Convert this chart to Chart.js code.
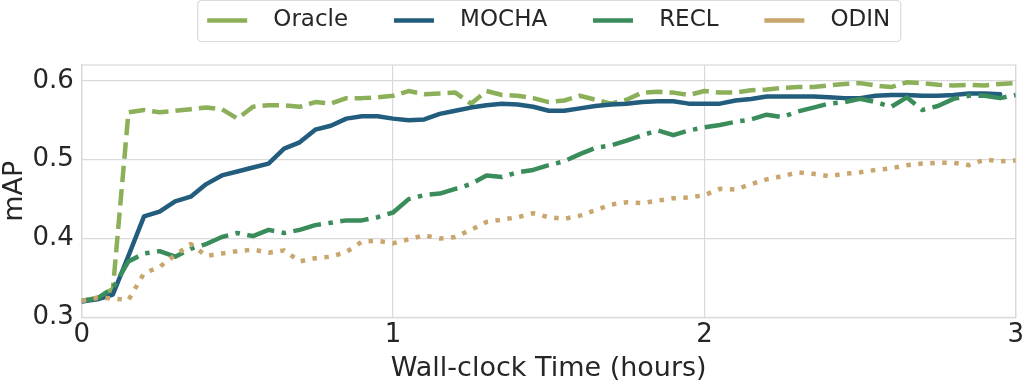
<!DOCTYPE html>
<html lang="en">
<head>
<meta charset="UTF-8">
<title>mAP vs Wall-clock Time</title>
<script src="https://cdn.jsdelivr.net/npm/chart.js"></script>
<style>
    html, body { margin: 0; padding: 0; background: #fff; }
    .chart-box { width: 1026px; height: 381px; }
</style>
</head>
<body>
<div class="chart-box"><canvas id="grafico"></canvas></div>
<script>
    // tempos de amostragem (horas)
    const hours = [
        0, 0.05, 0.1, 0.15, 0.2, 0.25, 0.3, 0.35, 0.4, 0.45,
        0.5, 0.55, 0.6, 0.65, 0.7, 0.75, 0.8, 0.85, 0.9, 0.95,
        1, 1.05, 1.1, 1.15, 1.2, 1.25, 1.3, 1.35, 1.4, 1.45,
        1.5, 1.55, 1.6, 1.65, 1.7, 1.75, 1.8, 1.85, 1.9, 1.95,
        2, 2.05, 2.1, 2.15, 2.2, 2.25, 2.3, 2.35, 2.4, 2.45,
        2.5, 2.55, 2.6, 2.65, 2.7, 2.75, 2.8, 2.85, 2.9, 2.95,
        3
    ];

    const oracle = [
        0.321, 0.325, 0.336, 0.560, 0.563, 0.560, 0.562, 0.564, 0.566, 0.564,
        0.552, 0.567, 0.569, 0.569, 0.567, 0.573, 0.571, 0.578, 0.578, 0.579,
        0.581, 0.587, 0.583, 0.584, 0.585, 0.571, 0.587, 0.582, 0.581, 0.578,
        0.573, 0.575, 0.581, 0.576, 0.571, 0.576, 0.585, 0.586, 0.585, 0.582,
        0.587, 0.585, 0.585, 0.588, 0.589, 0.591, 0.592, 0.592, 0.594, 0.596,
        0.597, 0.594, 0.592, 0.598, 0.597, 0.595, 0.594, 0.595, 0.594, 0.596,
        0.597
    ];

    const mocha = [
        0.320, 0.323, 0.329, 0.378, 0.428, 0.434, 0.447, 0.453, 0.469, 0.480,
        0.485, 0.490, 0.495, 0.514, 0.522, 0.538, 0.543, 0.552, 0.555, 0.555,
        0.552, 0.550, 0.551, 0.558, 0.562, 0.566, 0.569, 0.571, 0.570, 0.567,
        0.562, 0.562, 0.565, 0.568, 0.570, 0.571, 0.573, 0.574, 0.574, 0.571,
        0.571, 0.571, 0.575, 0.577, 0.580, 0.580, 0.580, 0.580, 0.579, 0.578,
        0.578, 0.581, 0.582, 0.582, 0.581, 0.581, 0.582, 0.584, 0.584, 0.583
    ];

    const recl = [
        0.321, 0.324, 0.337, 0.371, 0.381, 0.384, 0.377, 0.387, 0.393, 0.402,
        0.407, 0.403, 0.411, 0.407, 0.411, 0.417, 0.420, 0.423, 0.423, 0.427,
        0.433, 0.450, 0.455, 0.457, 0.463, 0.469, 0.480, 0.478, 0.484, 0.487,
        0.493, 0.498, 0.507, 0.515, 0.518, 0.524, 0.531, 0.537, 0.531, 0.537,
        0.541, 0.544, 0.548, 0.551, 0.557, 0.554, 0.561, 0.566, 0.571, 0.573,
        0.577, 0.573, 0.567, 0.579, 0.563, 0.568, 0.577, 0.581, 0.581, 0.578,
        0.582
    ];

    const odin = [
        0.321, 0.325, 0.324, 0.322, 0.356, 0.364, 0.379, 0.393, 0.378, 0.381,
        0.384, 0.386, 0.382, 0.385, 0.371, 0.375, 0.377, 0.383, 0.396, 0.397,
        0.394, 0.399, 0.404, 0.400, 0.402, 0.411, 0.421, 0.424, 0.427, 0.432,
        0.427, 0.425, 0.429, 0.436, 0.443, 0.446, 0.445, 0.448, 0.451, 0.452,
        0.455, 0.463, 0.462, 0.469, 0.475, 0.479, 0.484, 0.482, 0.479, 0.482,
        0.484, 0.487, 0.489, 0.493, 0.495, 0.496, 0.496, 0.493, 0.500, 0.498,
        0.499
    ];

    const xTicks = [0, 1, 2, 3];
    const yTicks = [0.3, 0.4, 0.5, 0.6];

    const TEXT = '#262626';
    const GRID = '#dadada';

    Chart.defaults.font.family = "'DejaVu Sans', sans-serif";
    Chart.defaults.color = TEXT;

    function pontos(valores) {
        return valores.map((v, i) => ({ x: hours[i], y: v }));
    }

    function serie(label, valores, cor, dash, cap, ordem) {
        return {
            label: label,
            data: pontos(valores),
            borderColor: cor,
            backgroundColor: cor,
            borderWidth: 4.5,
            borderDash: dash,
            borderCapStyle: cap,
            borderJoinStyle: 'round',
            pointRadius: 0,
            tension: 0,
            order: ordem
        };
    }

    // espaço entre legenda e área do gráfico
    const legendGap = {
        id: 'legendGap',
        beforeInit(chart) {
            const fitOriginal = chart.legend.fit;
            chart.legend.fit = function () {
                fitOriginal.bind(chart.legend)();
                this.height += 23;
            };
        }
    };

    // moldura do gráfico e da legenda
    const molduras = {
        id: 'molduras',
        beforeDatasetsDraw(chart) {
            const { ctx, chartArea: a, legend } = chart;
            ctx.save();
            ctx.strokeStyle = GRID;
            ctx.lineWidth = 1.2;
            ctx.strokeRect(a.left, a.top, a.right - a.left, a.bottom - a.top);
            const boxes = legend.legendHitBoxes;
            const first = boxes[0];
            const last = boxes[boxes.length - 1];
            ctx.beginPath();
            ctx.roundRect(first.left - 9.5, 0.5, last.left + last.width - first.left + 20, 41, 4);
            ctx.stroke();
            ctx.restore();
        }
    };

    new Chart(document.getElementById('grafico'), {
        type: 'line',
        data: {
            datasets: [
                serie('Oracle', oracle, '#8cb05a', [16.5, 7], 'butt', 4),
                serie('MOCHA', mocha, '#235d7d', [], 'round', 3),
                serie('RECL', recl, '#3a8d5b', [28.5, 7.5, 4.5, 7.5], 'butt', 2),
                serie('ODIN', odin, '#c9a66e', [4.5, 7.5], 'butt', 1)
            ]
        },
        options: {
            responsive: true,
            maintainAspectRatio: false,
            animation: false,
            layout: { padding: { left: 0, right: 10, top: 2, bottom: 0 } },
            plugins: {
                legend: {
                    position: 'top',
                    fullSize: false,
                    sort: (a, b) => a.datasetIndex - b.datasetIndex,
                    labels: {
                        usePointStyle: true,
                        pointStyle: 'line',
                        pointStyleWidth: 40,
                        padding: 7,
                        color: TEXT,
                        font: { size: 23 },
                        generateLabels: function (chart) {
                            const itens = Chart.defaults.plugins.legend.labels.generateLabels(chart);
                            itens.sort((a, b) => a.datasetIndex - b.datasetIndex);
                            return itens.map((it, i) => {
                                it.text = '  ' + it.text + (i < itens.length - 1 ? '     \u200a' : '');
                                return it;
                            });
                        }
                    }
                },
                tooltip: { enabled: false }
            },
            scales: {
                x: {
                    type: 'linear',
                    min: 0,
                    max: 3,
                    afterBuildTicks: s => { s.ticks = xTicks.map(v => ({ value: v })); },
                    ticks: { font: { size: 26 }, color: TEXT, padding: 2 },
                    grid: { color: GRID, lineWidth: 1.2, drawTicks: false },
                    border: { color: GRID, width: 1.2 },
                    title: {
                        display: true,
                        text: 'Wall-clock Time (hours)',
                        font: { size: 27 },
                        color: TEXT,
                        padding: { top: 0, bottom: -4 }
                    }
                },
                y: {
                    type: 'linear',
                    min: 0.3,
                    max: 0.62,
                    afterBuildTicks: s => { s.ticks = yTicks.map(v => ({ value: v })); },
                    ticks: {
                        font: { size: 26 },
                        color: TEXT,
                        padding: 8,
                        callback: v => v.toFixed(1)
                    },
                    grid: { color: GRID, lineWidth: 1.2, drawTicks: false },
                    border: { color: GRID, width: 1.2 },
                    title: {
                        display: true,
                        text: 'mAP',
                        font: { size: 27 },
                        color: TEXT,
                        padding: { top: -1, bottom: -7 }
                    }
                }
            }
        },
        plugins: [legendGap, molduras]
    });
</script>
</body>
</html>
